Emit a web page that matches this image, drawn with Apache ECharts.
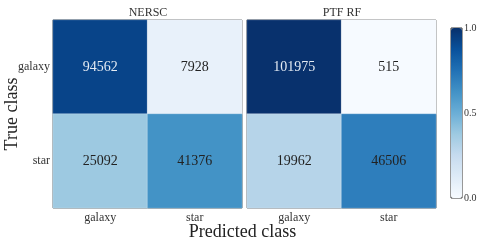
<!DOCTYPE html>
<html><head><meta charset="utf-8">
<script src="https://cdn.jsdelivr.net/npm/echarts@6/dist/echarts.min.js"></script>
<style>html,body{margin:0;padding:0;background:#fff}#c{width:485px;height:242px}</style>
</head><body><div id="c"></div>
<script>
const predCats = ['galaxy', 'star'];
const trueCats = ['galaxy', 'star'];
const panelTitles = ['NERSC', 'PTF RF'];
// counts[panel][trueRow][predCol]
const nerscCounts = [[94562, 7928], [25092, 41376]];
const ptfCounts = [[101975, 515], [19962, 46506]];
const cbTicks = [0.0, 0.5, 1.0];

const font = 'Liberation Serif, Times New Roman, serif';
const blues = ['#f7fbff','#deebf7','#c6dbef','#9ecae1','#6baed6','#4292c6','#2171b5','#08519c','#08306b'];

function buildData(counts) {
  const out = [];
  counts.forEach((row, r) => {
    const tot = row.reduce((a, b) => a + b, 0);
    row.forEach((v, c) => {
      const f = v / tot;
      out.push({value: [c, r, f, v], label: {color: f > 0.75 ? '#e4ebf3' : '#222'}});
    });
  });
  return out;
}

const chart = echarts.init(document.getElementById('c'));
const gridCommon = {top: 20, height: 188, width: 189, show: true, borderColor: '#444', borderWidth: 1, backgroundColor: 'transparent'};
const xAx = (i) => ({type: 'category', gridIndex: i, data: predCats, axisLine: {show: false}, axisTick: {show: false},
  axisLabel: {fontFamily: font, fontSize: 12, color: '#333', margin: 4}, splitLine: {show: false}});
const yAx = (i, showLabels) => ({type: 'category', gridIndex: i, data: trueCats, inverse: true, axisLine: {show: false}, axisTick: {show: false},
  axisLabel: {show: showLabels, fontFamily: font, fontSize: 12, color: '#333', margin: 3}, splitLine: {show: false},
  name: showLabels ? 'True class' : '', nameLocation: 'middle', nameGap: 32, nameRotate: 90, nameMoveOverlap: false,
  nameTextStyle: {fontFamily: font, fontSize: 18, color: '#222'}});

const labelCfg = {show: true, fontFamily: font, fontSize: 14, formatter: p => String(p.value[3])};

chart.setOption({
  animation: false,
  grid: [
    Object.assign({left: 53}, gridCommon),
    Object.assign({left: 247}, gridCommon),
    {left: 451, top: 28, width: 11, height: 170, show: true, borderColor: '#333', borderWidth: 1, backgroundColor: 'transparent'}
  ],
  xAxis: [xAx(0), xAx(1), {type: 'value', gridIndex: 2, show: false, min: 0, max: 1}],
  yAxis: [yAx(0, true), yAx(1, false), {type: 'value', gridIndex: 2, min: 0, max: 1, interval: 0.5, position: 'right',
    axisLine: {show: false}, axisTick: {show: false}, splitLine: {show: false},
    axisLabel: {fontFamily: font, fontSize: 10, color: '#333', margin: 2, formatter: v => v.toFixed(1)}}],
  visualMap: {type: 'continuous', min: 0, max: 1, dimension: 2, seriesIndex: [0, 1], calculable: false,
    orient: 'vertical', left: 451, top: 28, itemWidth: 11, itemHeight: 170, text: ['', ''], showLabel: false,
    inRange: {color: blues}, padding: 0},
  title: [
    {text: 'Predicted class', left: 'center', bottom: 1, padding: 0, textStyle: {fontFamily: font, fontSize: 18, fontWeight: 'normal', color: '#222'}}
  ],
  graphic: panelTitles.map((t, i) => ({type: 'text', x: i === 0 ? 148 : 342, y: 7,
    style: {text: t, font: '12px ' + font, fill: '#333', textAlign: 'center'}})),
  series: [
    {type: 'heatmap', xAxisIndex: 0, yAxisIndex: 0, data: buildData(nerscCounts), label: labelCfg,
      itemStyle: {borderColor: 'rgba(255,255,255,0.25)', borderWidth: 1}},
    {type: 'heatmap', xAxisIndex: 1, yAxisIndex: 1, data: buildData(ptfCounts), label: labelCfg,
      itemStyle: {borderColor: 'rgba(255,255,255,0.25)', borderWidth: 1}}
  ]
});
</script></body></html>
